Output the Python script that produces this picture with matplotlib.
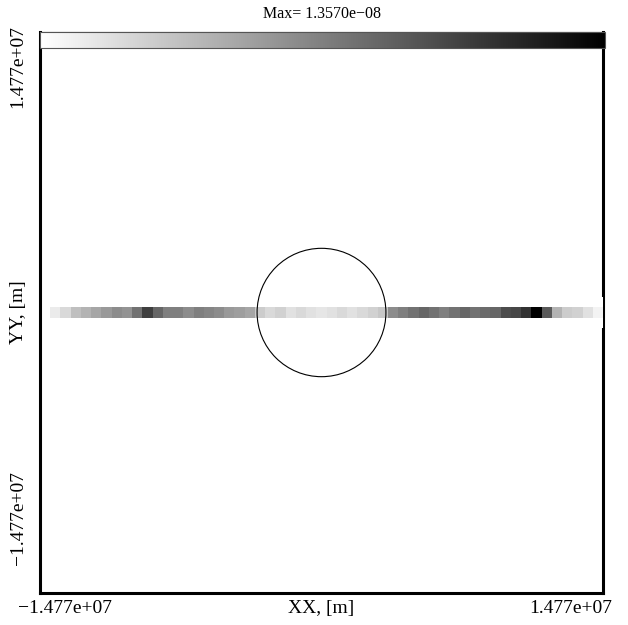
import numpy as np
import matplotlib
matplotlib.use('Agg')
import matplotlib.pyplot as plt
from matplotlib.patches import Circle

plt.rcParams['font.family'] = ['Liberation Serif', 'DejaVu Serif']

# --- data ---
vmax = 1.3570e-08          # value in the title
xy_max = 1.477e+07         # half-width of the domain, m
body_radius = 3.38e+06     # circle drawn in the middle, m
n_cells = 55

# relative intensity along the central row, left to right (NaN = empty)
strip_frac = [np.nan, 0.08, 0.15, 0.25, 0.30, 0.35, 0.40, 0.45, 0.42, 0.55,
              0.75, 0.60, 0.50, 0.50, 0.45, 0.50, 0.48, 0.45, 0.40, 0.38,
              0.35, 0.20, 0.15, 0.18, 0.12, 0.15, 0.12, 0.10, 0.12, 0.15,
              0.12, 0.15, 0.18, 0.22, 0.45, 0.50, 0.55, 0.60, 0.55, 0.50,
              0.55, 0.60, 0.55, 0.58, 0.60, 0.70, 0.72, 0.80, 1.00, 0.65,
              0.30, 0.20, 0.18, 0.12, 0.05]

grid = np.full((n_cells, n_cells), np.nan)
mid = n_cells // 2
grid[mid - 1:mid + 2, -1] = 0.0
grid[mid, :] = np.array(strip_frac) * vmax


def fmt(v):
    return f"{v:.3e}".replace('-', '\u2212')


fig = plt.figure(figsize=(6.28, 6.25), dpi=100)
ax = fig.add_axes([40 / 628, 32 / 625, 563 / 628, 561 / 625])

im = ax.imshow(grid, cmap='gray_r', vmin=0, vmax=vmax, origin='lower',
               extent=[-xy_max, xy_max, -xy_max, xy_max],
               interpolation='nearest', aspect='auto', zorder=3)
ax.add_patch(Circle((0, 0), body_radius, fill=False, edgecolor='black',
                    linewidth=0.8, zorder=4))
ax.set_xlim(-xy_max, xy_max)
ax.set_ylim(-xy_max, xy_max)
ax.set_xticks([])
ax.set_yticks([])
for side in ['left', 'bottom', 'right']:
    ax.spines[side].set_linewidth(2.2)
ax.spines['top'].set_linewidth(0.8)

# axis labels at the domain limits, as in the original
fs = 14
ax.text(-0.039, -0.027, fmt(-xy_max), transform=ax.transAxes, ha='left',
        va='center', fontsize=fs)
ax.text(1.016, -0.027, fmt(xy_max), transform=ax.transAxes, ha='right',
        va='center', fontsize=fs)
ax.text(0.5, -0.027, 'XX, [m]', transform=ax.transAxes, ha='center',
        va='center', fontsize=fs)
ax.text(-0.039, 1.0125, fmt(xy_max), transform=ax.transAxes, ha='center',
        va='top', rotation=90, fontsize=fs)
ax.text(-0.039, 0.05, fmt(-xy_max), transform=ax.transAxes, ha='center',
        va='bottom', rotation=90, fontsize=fs)
ax.text(-0.039, 0.5, 'YY, [m]', transform=ax.transAxes, ha='center',
        va='center', rotation=90, fontsize=fs)

# colour bar across the top of the frame
cax = fig.add_axes([40 / 628, 577 / 625, 565 / 628, 16 / 625], zorder=5)
cb = fig.colorbar(im, cax=cax, orientation='horizontal')
cb.set_ticks([])
cb.outline.set_linewidth(0.8)
cb.outline.set_edgecolor('#555555')

fig.text(322 / 628, 1 - 14 / 625, 'Max= ' + f"{vmax:.4e}".replace('-', '\u2212'),
         ha='center', va='center', fontsize=11.5)

fig.savefig('out.png', dpi=100)
